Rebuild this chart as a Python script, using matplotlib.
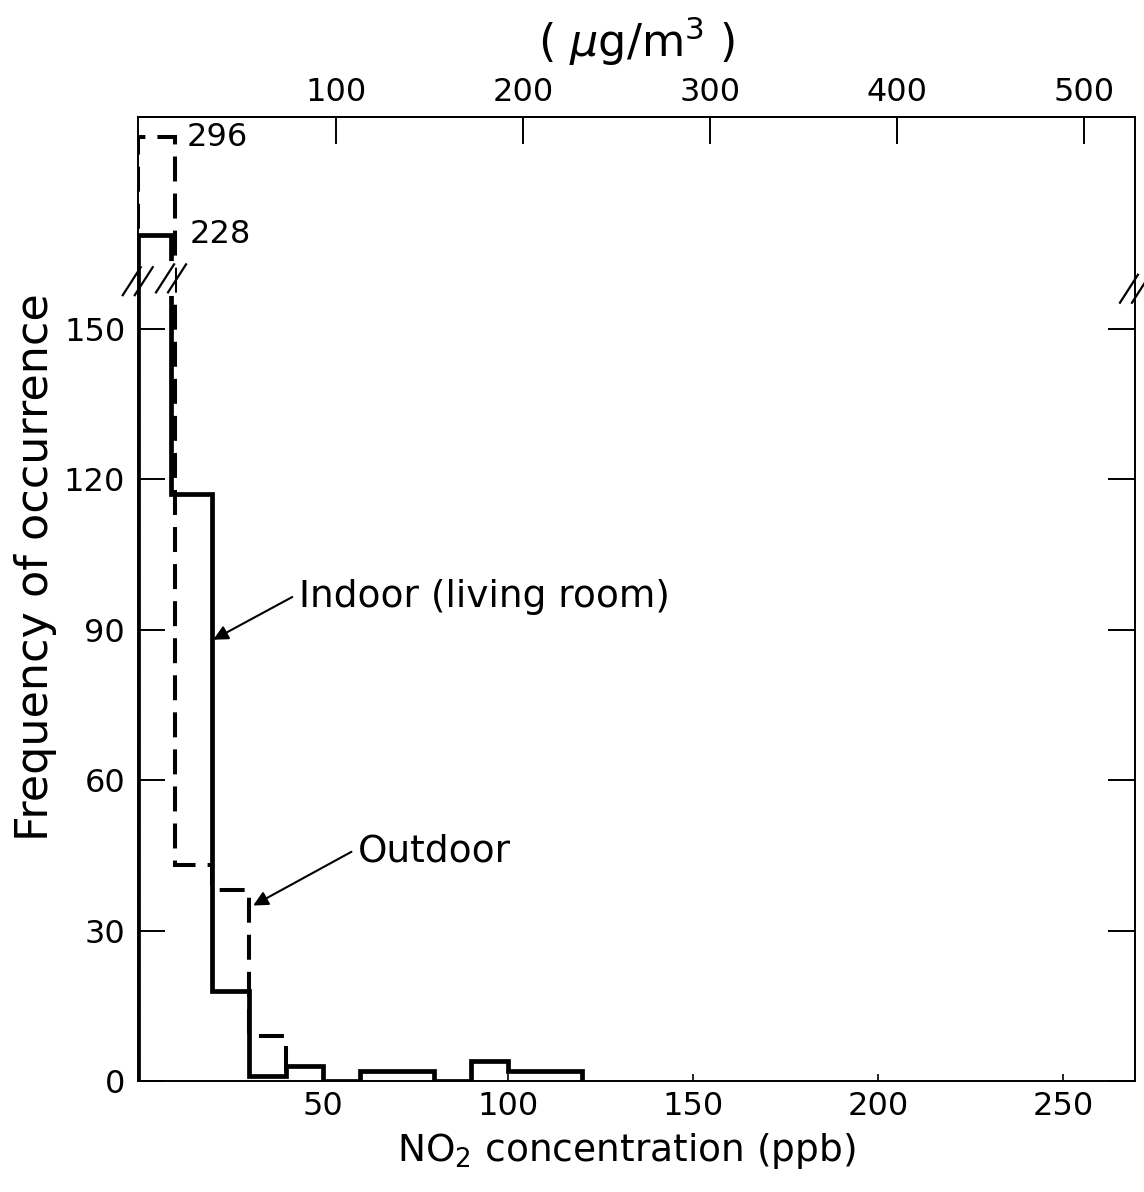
import numpy as np
import matplotlib
matplotlib.use("Agg")
import matplotlib.pyplot as plt
import matplotlib.transforms as mtransforms

plt.rcParams['font.family'] = ['DejaVu Sans']

# NO2 histogram counts (ppb bins)
indoor_edges = [0, 9, 20, 30, 40, 50, 60, 70, 80, 90, 100, 110, 120]
indoor_counts = [228, 117, 18, 1, 3, 0, 2, 2, 0, 4, 2, 2]
outdoor_edges = [0, 10, 20, 30, 40]
outdoor_counts = [296, 43, 38, 9]

yticks = [0, 30, 60, 90, 120, 150]
xticks = [50, 100, 150, 200, 250]
top_ticks = [100, 200, 300, 400, 500]

# broken y axis: values above the break are squeezed
brk_in = [0, 160, 228, 296, 400]
brk_out = [0, 160, 168.8, 188.2, 217.8]


def fwd(v):
    v = np.asarray(v, dtype=float)
    return np.where(v < 0, v, np.interp(v, brk_in, brk_out))


def inv(v):
    v = np.asarray(v, dtype=float)
    return np.where(v < 0, v, np.interp(v, brk_out, brk_in))


# top axis calibration as drawn in the figure
def ppb2ug(x):
    return (np.asarray(x, dtype=float) - 3.1) * 1.98


def ug2ppb(x):
    return np.asarray(x, dtype=float) / 1.98 + 3.1


fig = plt.figure(figsize=(11.44, 11.92), dpi=100)
ax = fig.add_axes([0.1204, 0.0931, 0.8717, 0.8085])
ax.set_yscale('function', functions=(fwd, inv))
ax.set_xlim(0, 269.5)
ax.set_ylim(0, 310)

ax.stairs(indoor_counts, indoor_edges, baseline=0, fill=False,
          color='black', lw=3.4, zorder=2.2)
ax.stairs(outdoor_counts, outdoor_edges, baseline=0, fill=False,
          color='black', lw=2.9, linestyle=(0, (6.2, 3.0)), zorder=2.2)

for s in ax.spines.values():
    s.set_linewidth(1.4)

ax.set_yticks(yticks)
ax.set_yticklabels([str(t) for t in yticks])
ax.set_xticks(xticks)
ax.tick_params(axis='y', which='both', direction='in', length=19.5, width=1.4,
               left=True, right=True, labelsize=23, pad=9)
ax.tick_params(axis='x', which='both', direction='in', length=5, width=1.2,
               labelsize=23, pad=7)
ax.minorticks_off()

secax = ax.secondary_xaxis('top', functions=(ppb2ug, ug2ppb))
secax.set_xticks(top_ticks)
secax.tick_params(direction='in', length=19.5, width=1.4, labelsize=23, pad=7)
secax.spines['top'].set_linewidth(1.4)
secax.set_xlabel(r'( $\mu$g/m$^3$ )', fontsize=32)
secax.xaxis.set_label_coords(0.5, 1.063, transform=ax.transAxes)

ax.set_xlabel(r'NO$_2$ concentration (ppb)', fontsize=27)
ax.xaxis.set_label_coords(0.49, -0.052)
ax.set_ylabel('Frequency of occurrence', fontsize=32)
ax.yaxis.set_label_coords(-0.081, 0.533)

ax.text(13.3, 296, '296', fontsize=23, ha='left', va='center')
ax.text(14.0, 228, '228', fontsize=23, ha='left', va='center')

ax.annotate('Indoor (living room)', xy=(20.4, 88), xytext=(43.5, 96.5),
            fontsize=27, ha='left', va='center',
            arrowprops=dict(arrowstyle='-|>', color='black', lw=1.5,
                            mutation_scale=22, shrinkA=3, shrinkB=0,
                            relpos=(0, 0.6)))
ax.annotate('Outdoor', xy=(31.2, 35), xytext=(59.5, 45.7),
            fontsize=27, ha='left', va='center',
            arrowprops=dict(arrowstyle='-|>', color='black', lw=1.5,
                            mutation_scale=22, shrinkA=3, shrinkB=0,
                            relpos=(0, 0.6)))

# break marks (//) on both spines and on the indoor bar
ident = mtransforms.IdentityTransform()
for bx, by, gap in [(0, 159.5, False), (9, 160.5, True), (269.5, 158.0, False)]:
    cx, cy = ax.transData.transform((bx, by))
    if gap:
        ax.plot([cx, cx], [cy - 14, cy + 14], color='white', lw=5,
                transform=ident, clip_on=False, zorder=4)
    for off in (-6, 6):
        ax.plot([cx - 9 + off, cx + 9 + off], [cy - 14, cy + 14],
                color='black', lw=1.6, transform=ident, clip_on=False, zorder=5)

fig.savefig('out.png', dpi=100)
